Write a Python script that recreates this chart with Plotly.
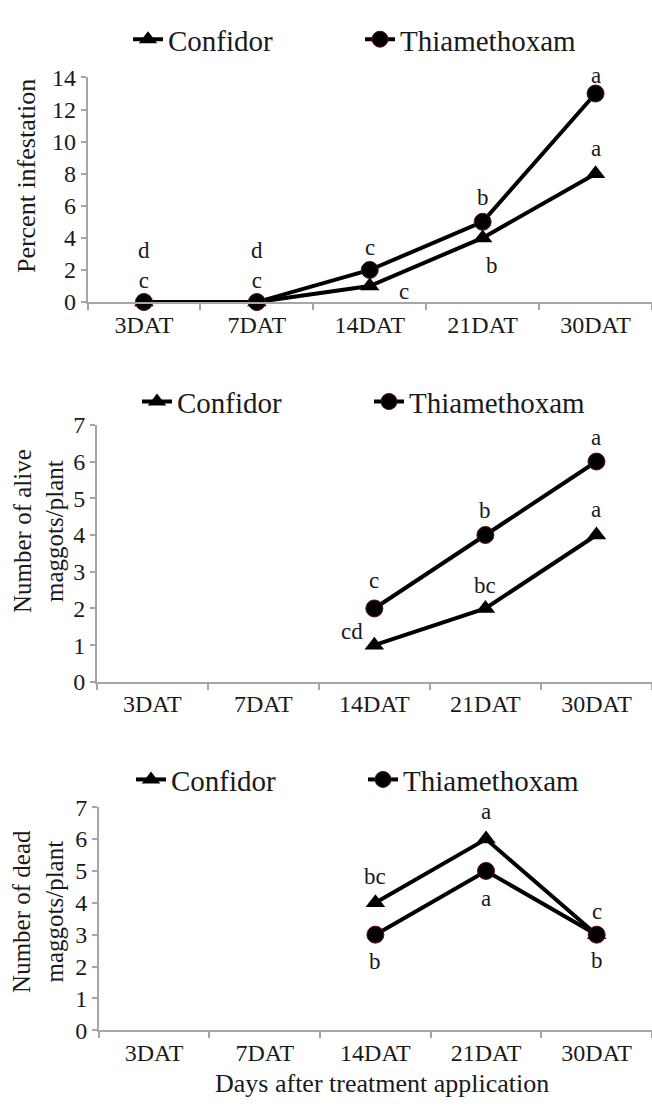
import plotly.graph_objects as go

# ---------------- data ----------------
categories = ["3DAT", "7DAT", "14DAT", "21DAT", "30DAT"]
series_names = ["Confidor", "Thiamethoxam"]

infest_confidor = [0, 0, 1, 4, 8]
infest_thiam = [0, 0, 2, 5, 13]

alive_confidor = [None, None, 1, 2, 4]
alive_thiam = [None, None, 2, 4, 6]

dead_confidor = [None, None, 4, 6, 3]
dead_thiam = [None, None, 3, 5, 3]

# significance letters: (category index position, y value, text, extra pixel lift)
letters_infest = [(0, 2.3, "d<br>c", 0), (1, 2.3, "d<br>c", 0),
                  (2, 3.4, "c", 0), (2.3, 0.65, "c", 0), (3, 6.5, "b", 0),
                  (3.08, 2.3, "b", 0), (4, 14, "a", 2), (4, 9.55, "a", 0)]
letters_alive = [(2, 2.75, "c", 0), (1.8, 1.37, "cd", 0), (3, 4.68, "b", 0),
                 (3, 2.62, "bc", 0), (4, 6.65, "a", 0), (4, 4.7, "a", 0)]
letters_dead = [(2, 4.84, "bc", 0), (2, 2.15, "b", 0), (3, 6.85, "a", 0),
                (3, 4.14, "a", 0), (4, 3.73, "c", 0), (4, 2.2, "b", 0)]

y_titles = ["Percent infestation", "Number of alive<br>maggots/plant",
            "Number of dead<br>maggots/plant"]
x_title = "Days after treatment application"

FONT = '"Liberation Serif", "Times New Roman", serif'
W, H = 652, 1108
AXC = "#a6a6a6"
TXT = "#1a1a1a"

ymaxes = [14, 7, 7]
dts = [2, 1, 1]

fig = go.Figure()

panels = [
    (infest_confidor, infest_thiam, letters_infest, "x", "y", "legend"),
    (alive_confidor, alive_thiam, letters_alive, "x2", "y2", "legend2"),
    (dead_confidor, dead_thiam, letters_dead, "x3", "y3", "legend3"),
]

for conf, thia, letters, xa, ya, lg in panels:
    fig.add_trace(go.Scatter(
        x=categories, y=conf, name=series_names[0], mode="lines+markers",
        xaxis=xa, yaxis=ya, legend=lg, cliponaxis=False,
        line=dict(color="black", width=4),
        marker=dict(symbol="triangle-up", size=17, color="black"),
    ))
    fig.add_trace(go.Scatter(
        x=categories, y=thia, name=series_names[1], mode="lines+markers",
        xaxis=xa, yaxis=ya, legend=lg, cliponaxis=False,
        line=dict(color="black", width=4),
        marker=dict(symbol="circle", size=17, color="black",
                    line=dict(color="#5a1010", width=1)),
    ))
    for xp, yp, t, lift in letters:
        fig.add_annotation(x=xp, y=yp, text=t, xref=xa, yref=ya, yshift=lift,
                           showarrow=False,
                           font=dict(family=FONT, size=23, color=TXT))


def px(x):
    return x / W


def py(y):
    return 1 - y / H


axis_common = dict(showline=True, linecolor=AXC, linewidth=1.5, showgrid=False,
                   zeroline=False, ticks="outside", tickcolor=AXC, ticklen=6,
                   tickwidth=1.5, tickfont=dict(family=FONT, size=24, color=TXT))

x_left = [87.5, 96.7, 98.75]
y_top = [66, 421.7, 813.3]
y_bot = [296, 685, 1041.7]

layout = dict(
    width=W, height=H, margin=dict(l=0, r=0, t=0, b=0),
    plot_bgcolor="white", paper_bgcolor="white",
    font=dict(family=FONT, color=TXT),
)
for i in range(3):
    sfx = "" if i == 0 else str(i + 1)
    layout["xaxis" + sfx] = dict(
        axis_common, domain=[px(x_left[i]), 1.0], type="category",
        categoryorder="array", categoryarray=categories,
        range=[-0.5, 4.5], tickson="boundaries",
        anchor="y" + sfx,
    )
    layout["yaxis" + sfx] = dict(
        axis_common, domain=[py(y_bot[i]), py(y_top[i])], range=[0, ymaxes[i]],
        dtick=dts[i], tick0=0, ticklen=5, anchor="x" + sfx,
    )

legend_common = dict(orientation="h", xanchor="left", yanchor="middle",
                     font=dict(family=FONT, size=29, color=TXT),
                     bgcolor="rgba(0,0,0,0)", entrywidth=187, entrywidthmode="pixels",
                     itemwidth=30, traceorder="normal")
layout["legend"] = dict(legend_common, x=px(128), y=py(27))
layout["legend2"] = dict(legend_common, x=px(137), y=py(398))
layout["legend3"] = dict(legend_common, x=px(131), y=py(785))

fig.update_layout(**layout)

# y titles
title_pos = [(26, 167), (38.5, 531), (38.5, 920)]
title_sizes = [26, 25, 25]
for (tx, ty), t, s in zip(title_pos, y_titles, title_sizes):
    fig.add_annotation(x=px(tx), y=py(ty), xref="paper", yref="paper", text=t,
                       textangle=-90, showarrow=False, xanchor="center", yanchor="middle",
                       font=dict(family=FONT, size=s, color=TXT))

fig.add_annotation(x=px(382), y=py(1096), xref="paper", yref="paper", text=x_title,
                   showarrow=False, xanchor="center", yanchor="middle",
                   font=dict(family=FONT, size=26, color=TXT))

fig.write_html("out.html")
